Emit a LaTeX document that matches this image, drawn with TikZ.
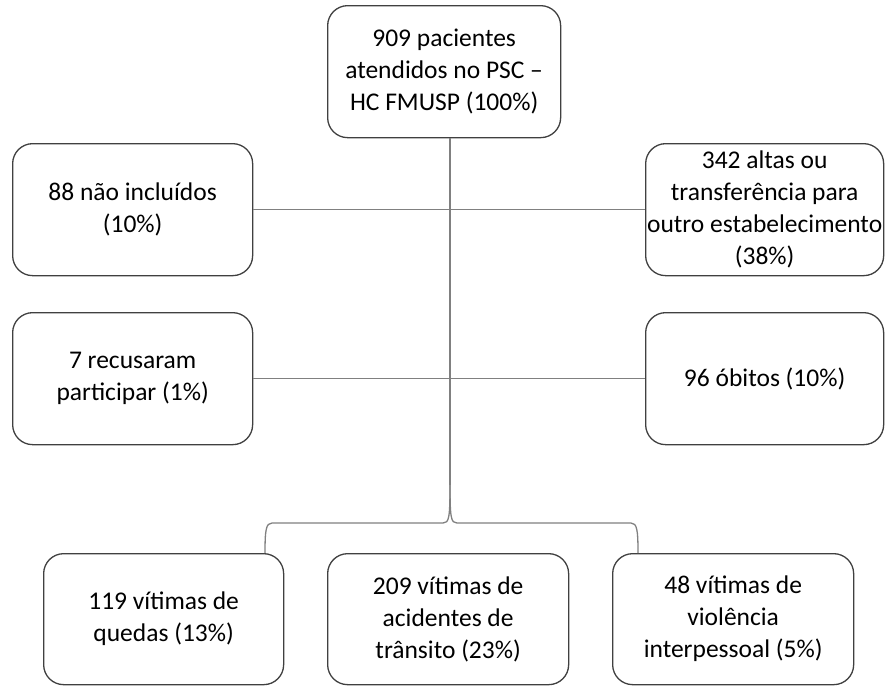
\documentclass[tikz,border=0pt]{standalone}
\usepackage{fontspec}
\setmainfont{Carlito}
\begin{document}
\begin{tikzpicture}[x=1pt,y=-1pt,
  box/.style={draw=black!75, line width=1.3pt, rounded corners=20pt, fill=white,
    align=center, font=\fontsize{25.5}{32}\selectfont, inner sep=0pt, anchor=north west},
  conn/.style={draw=black!50, line width=1.3pt}]
\useasboundingbox (0,0) rectangle (885,686);
\node[box, minimum width=233pt, minimum height=132pt] (top) at (327,5) {909 pacientes\\atendidos no PSC –\\HC FMUSP (100\%)};
\node[box, minimum width=240pt, minimum height=132pt] (l1) at (12,143) {88 não incluídos\\(10\%)};
\node[box, minimum width=238pt, minimum height=132pt] (r1) at (645,143) {342 altas ou\\transferência para\\outro estabelecimento\\(38\%)};
\node[box, minimum width=240pt, minimum height=132pt] (l2) at (12,312) {7 recusaram\\participar (1\%)};
\node[box, minimum width=238pt, minimum height=132pt] (r2) at (645,312) {96 óbitos (10\%)};
\node[box, minimum width=240pt, minimum height=131pt] (b1) at (43,553) {119 vítimas de\\quedas (13\%)};
\node[box, minimum width=241pt, minimum height=131pt] (b2) at (327,553) {209 vítimas de\\acidentes de\\trânsito (23\%)};
\node[box, minimum width=241pt, minimum height=131pt] (b3) at (612,553) {48 vítimas de\\violência\\interpessoal (5\%)};
\coordinate (tip) at (450,485);
\coordinate (bl) at (265,553);
\coordinate (br) at (638,553);
\path[conn] (l1.east) -- (r1.west);
\path[conn] (l2.east) -- (r2.west);
\path[conn] (top.south -| tip) -- (tip);
\path[conn] (tip) .. controls (450,518) and (449,523) .. (443,523) -- (272,523)
  .. controls (266,523) and (265,530) .. (bl);
\path[conn] (tip) .. controls (450,518) and (451,523) .. (457,523) -- (631,523)
  .. controls (637,523) and (638,530) .. (br);
\end{tikzpicture}
\end{document}
